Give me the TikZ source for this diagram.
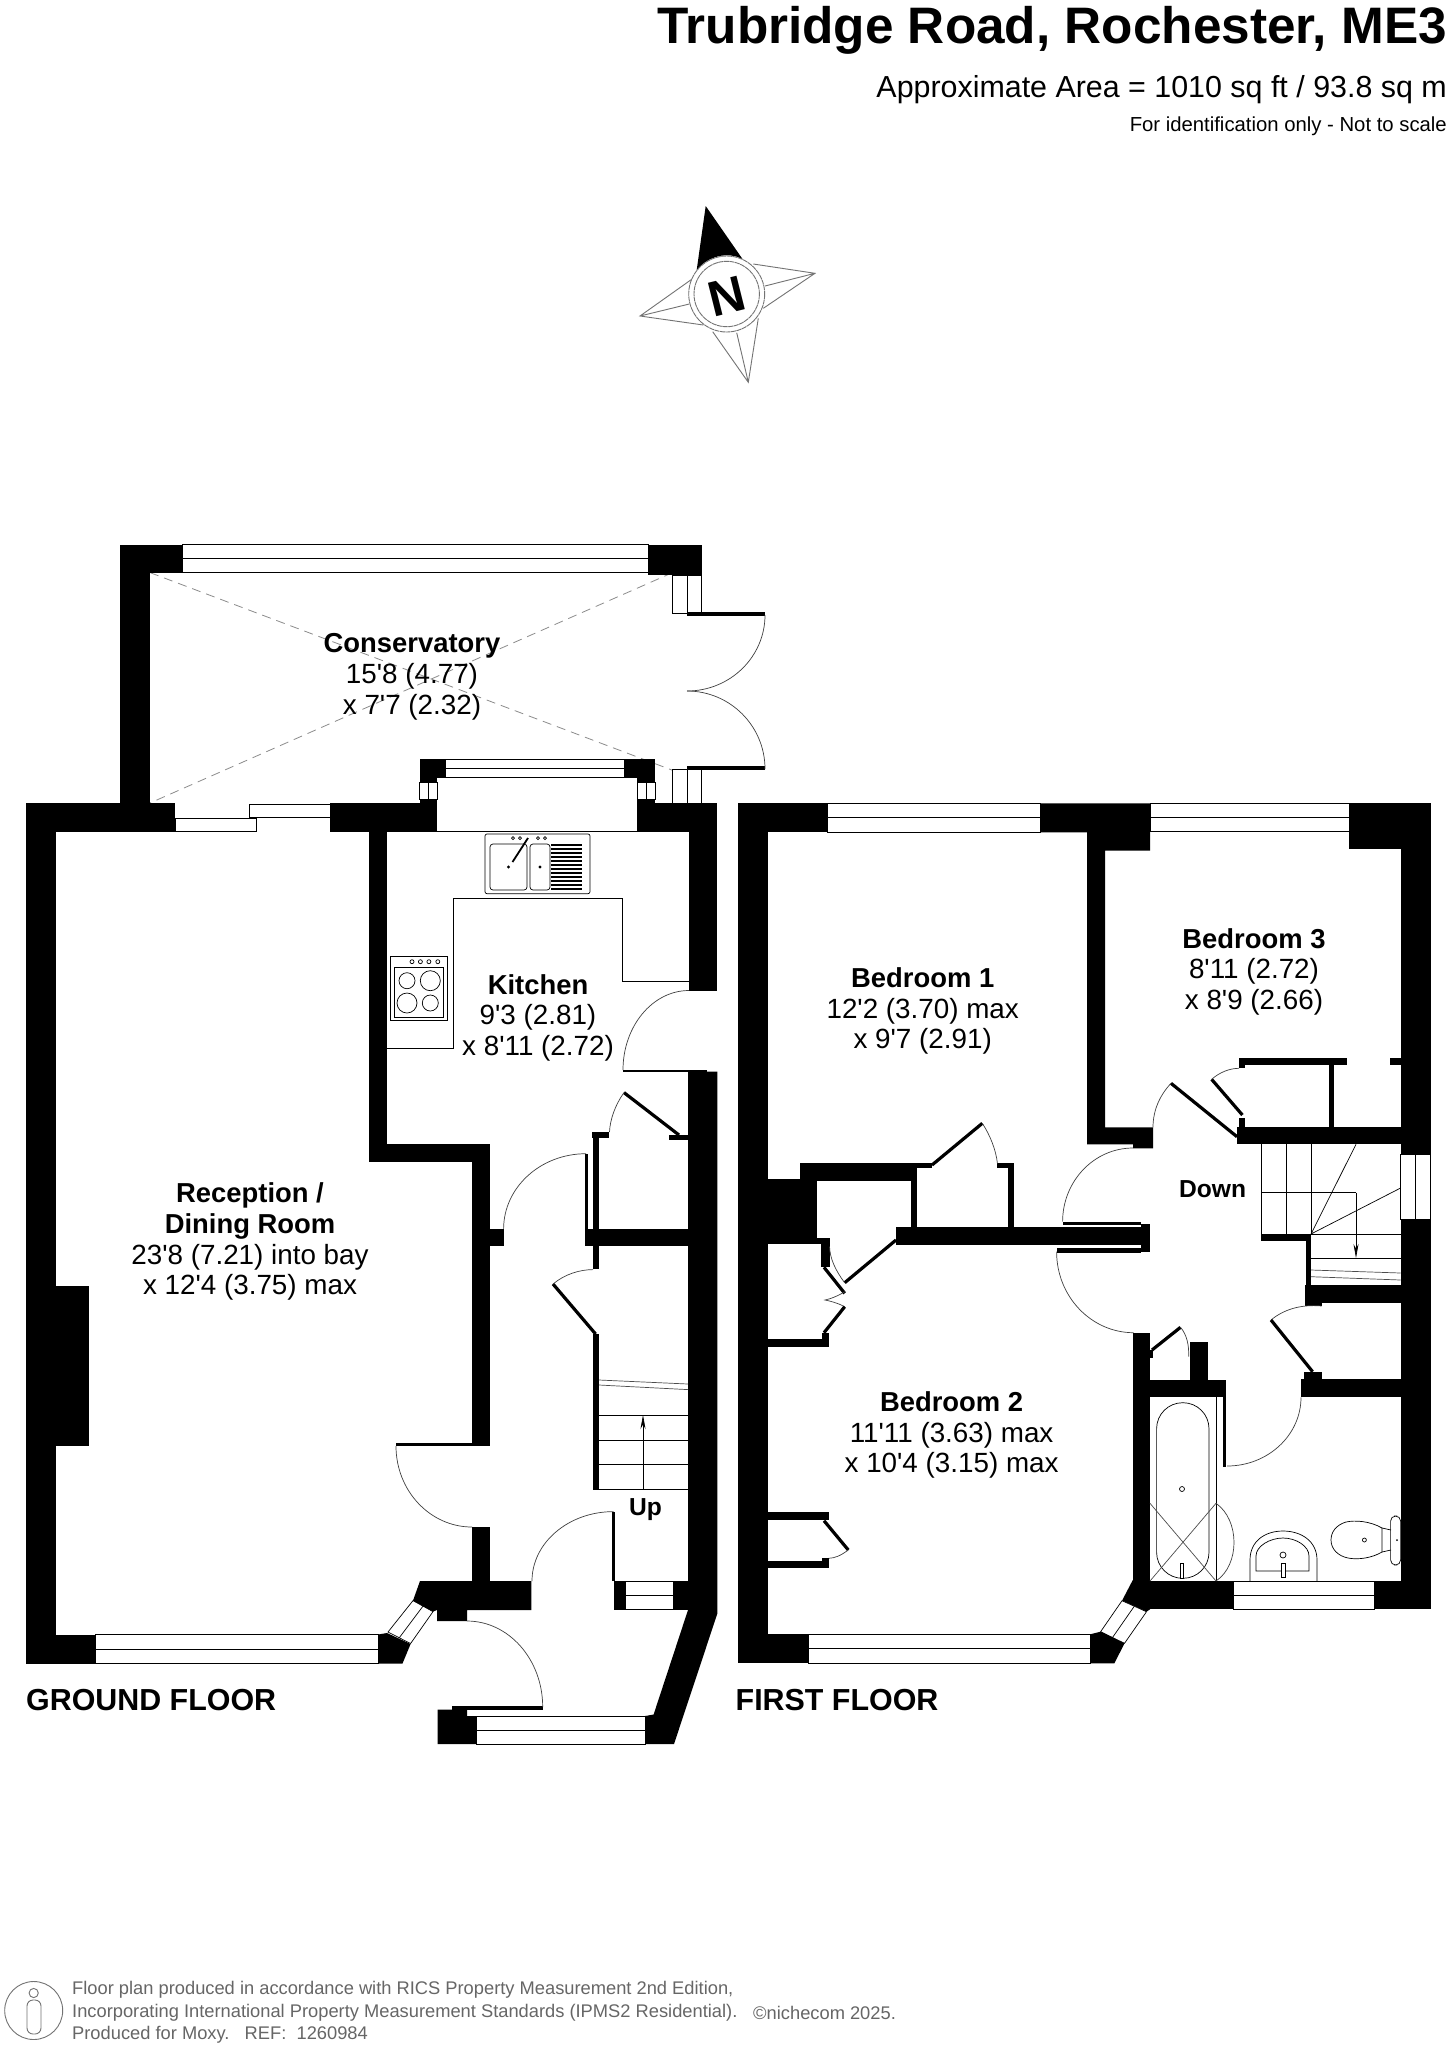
\documentclass[tikz,border=0pt]{standalone}
\usepackage{fontspec}
\usetikzlibrary{calc,arrows.meta}
\newfontfamily\planfont{Liberation Sans}
\newcommand\fsz[1]{\fontsize{#1bp}{#1bp}\selectfont}
\newcommand\Wrect[2]{\fill[black] (#1) rectangle (#2);}
\newcommand\WinH[4]{\draw[winl] (#1,#2) rectangle (#3,#4); \draw[winl] (#1,{(#2+#4)/2}) -- (#3,{(#2+#4)/2});}
\newcommand\WinV[4]{\draw[winl] (#1,#2) rectangle (#3,#4); \draw[winl] ({(#1+#3)/2},#2) -- ({(#1+#3)/2},#4);}
\newcommand\Qarc[3]{\draw[arcl] (#1) .. controls ($(#1)+0.552*(#2)-0.552*(#3)$) and ($(#2)+0.552*(#1)-0.552*(#3)$) .. (#2);}
\tikzset{
  winl/.style={draw=black,line width=0.7bp,fill=white},
  arcl/.style={draw=black!75,line width=0.7bp},
  thinl/.style={draw=black,line width=0.7bp},
  leaf/.style={draw=black,line width=3.2bp},
  room/.style={font=\planfont\fsz{27.8},align=center,inner sep=0pt},
  roomb/.style={font=\planfont\bfseries\fsz{27.4},align=center,inner sep=0pt},
  small/.style={font=\planfont\bfseries\fsz{24.6},inner sep=0pt},
  floorlab/.style={font=\planfont\bfseries\fsz{30.4},inner sep=0pt,anchor=west},
  foot/.style={font=\planfont\fsz{18.3},text=black!60,inner sep=0pt,anchor=west},
  comp/.style={draw=black!55,line width=0.9bp},
}
\begin{document}
\begin{tikzpicture}[x=1bp,y=-1bp]
\useasboundingbox (0,0) rectangle (1449,2048);
\fill[white] (0,0) rectangle (1449,2048);
% ---- header
\node[font=\planfont\bfseries\fsz{51.3},anchor=east,inner sep=0pt] (title) at (1447,30) {Trubridge Road, Rochester, ME3};
\node[font=\planfont\fsz{30.4},anchor=east,inner sep=0pt] (area) at (1447,90) {Approximate Area = 1010 sq ft / 93.8 sq m};
\node[font=\planfont\fsz{20.3},anchor=east,inner sep=0pt] (scale) at (1447,126.5) {For identification only - Not to scale};
% ---- compass
\fill[black] (705.7,206) -- (742.7,259.3) .. controls (728,251) and (708,256) .. (696.7,270) -- cycle;
\draw[comp] (691.7,279.3) -- (640,316) -- (703.3,325) (640,316) -- (689.3,304);
\draw[comp] (753.3,264) -- (815,273.3) -- (763.3,308.3) (815,273.3) -- (765,286);
\draw[comp] (758.3,318.3) -- (748.3,382.3) -- (712.7,331.7) (748.3,382.3) -- (736.7,332.7);
\draw[comp,dash pattern=on 5bp off 0.6bp] (726.7,294) circle [radius=38] (726.7,294) circle [radius=32.7];
\node[font=\planfont\bfseries\fsz{50},rotate=14,inner sep=0pt] (north) at (727,296) {N};
% ---- GROUND FLOOR
\draw[black!45,line width=0.8bp,dash pattern=on 9bp off 6bp] (150,572.6) -- (672.6,770.3) (672.6,572.6) -- (150,803);
\Wrect{120,544.5}{150,803}
\Wrect{120,544.5}{182.6,572.6}
\WinH{182.6}{544.5}{648}{572.6}
\Wrect{648,544.5}{701.5,575}
\WinV{672.6}{575}{701.5}{613}
\Wrect{687,611.5}{765,615.7}
\Wrect{687,766}{765,769.5}
\WinV{672.6}{769.5}{701.5}{803}
\Qarc{765,615}{687,691}{687,615}
\Qarc{765,769}{687,691}{687,769}
\Wrect{26,803}{175,831.6}
\Wrect{330,803}{437,831.6}
\draw[winl] (175,818) rectangle (256,831.6);
\draw[winl] (249,804) rectangle (330,817);
\Wrect{419.5,759}{445,777}
\Wrect{419.5,777}{437,782}
\WinV{419.5}{782}{437}{799}
\Wrect{419.5,799}{437,803}
\WinH{445}{759}{624}{777}
\Wrect{624,759}{655,777}
\Wrect{637,777}{655,782}
\WinV{637}{782}{655}{799}
\Wrect{637,799}{655,803}
\Wrect{637,803}{717,831.6}
\draw[thinl] (437,777) -- (637,777) (437,831.6) -- (637,831.6);
% kitchen / reception walls
\Wrect{368.6,831.6}{386.5,1162}
\Wrect{368.6,1143.5}{490,1162}
\Wrect{472.4,1143.5}{490,1444}
\Wrect{490,1229}{503.6,1246}
\Wrect{396,1442.5}{490,1446}
\Wrect{472.4,1527}{490,1581}
\Wrect{26,803}{56,1663.5}
\Wrect{56,1286}{88.7,1446}
\Wrect{26,1634.5}{95.8,1663.5}
\WinH{95.8}{1634.5}{378}{1663.5}
\fill[black] (378,1634.5) -- (387,1633) -- (410.6,1644) -- (402.5,1663.5) -- (378,1663.5) -- cycle;
\draw[winl] (413,1600.6) -- (433,1611.6) -- (410.6,1643.5) -- (388,1632) -- cycle;
\draw[winl] (423,1606.1) -- (399.3,1637.7);
\fill[black] (420,1581) -- (531.4,1581) -- (531.4,1610) -- (467,1610) -- (467,1621) -- (437,1621) -- (437,1610) -- (433,1611.6) -- (413,1600.6) -- cycle;
\Wrect{613.5,1581}{625,1609.6}
\WinH{625}{1581}{673.4}{1609.6}
\Wrect{673.4,1581}{688,1609.6}
\Wrect{611.6,1511.6}{614.5,1581}
\Wrect{689,803}{717,990.5}
\fill[black] (688,1071.6) -- (717.3,1071.6) -- (717.3,1613.7) -- (674,1744) -- (645,1744) -- (645,1716) -- (653.6,1714.5) -- (688,1610) -- cycle;
\WinH{476.6}{1716}{645}{1744}
\fill[black] (437.5,1709.6) -- (467,1709.6) -- (467,1716) -- (476.6,1716) -- (476.6,1744) -- (437.5,1744) -- cycle;
\Wrect{451.6,1706}{542.7,1709.6}
\Qarc{689,990.5}{623,1070}{689,1070}
\Wrect{623,1069.6}{707,1072}
\Qarc{503.6,1229}{586,1153.7}{586,1229}
\Qarc{396,1446}{472,1527}{472,1446}
\Qarc{613.5,1511.6}{532,1581}{613.5,1581}
\Qarc{467,1621}{542.7,1707}{467,1707}
% under-stair cupboards
\Wrect{592,1132}{609,1138}
\Wrect{593,1132}{599.4,1269}
\Wrect{585,1153.7}{588,1238}
\Wrect{585,1229}{688,1246}
\Wrect{669,1135}{689,1140}
\draw[leaf] (624,1092.6) -- (679,1135);
\draw[arcl] (624,1092.6) .. controls (615,1105) and (610,1120) .. (609.5,1132);
\draw[leaf] (553,1284) -- (595.6,1334);
\draw[arcl] (553,1284) .. controls (565,1274) and (580,1269.6) .. (593,1269.6);
\Wrect{593,1334}{599.4,1489}
\draw[thinl,black!70] (599,1380) -- (688,1384) (599,1385) -- (688,1389.6);
\draw[thinl] (599,1415.7) -- (688,1415.7) (599,1440) -- (688,1440) (599,1464.7) -- (688,1464.7) (593,1489) -- (688,1489);
\draw[thinl,-{Stealth[length=14bp,width=5bp]}] (643,1489) -- (643,1415);
% kitchen fittings
\draw[thinl] (386.5,1048.7) -- (453,1048.7) -- (453,898.4) -- (622,898.4) -- (622,981.4) -- (689,981.4);
\draw[thinl,rounded corners=2bp] (485,834) rectangle (590,893.7);
\draw[thinl,rounded corners=3bp] (490,844) rectangle (527,890);
\draw[thinl,rounded corners=3bp] (530,844) rectangle (550,890);
\foreach \yy in {845,849,853,857,861,865,869,873,877,881,885,889}{\draw[black,line width=1.6bp] (551,\yy) -- (582,\yy);}
\draw[thinl,line width=1.8bp] (512.5,862) -- (528,838);
\fill[black] (508.5,867) circle [radius=1.6] (540,867) circle [radius=1.6];
\draw[thinl] (513,838) circle [radius=1.5] (520,838) circle [radius=1.5] (538,838) circle [radius=1.5] (545,838) circle [radius=1.5];
\draw[thinl] (390.5,956) rectangle (447.8,1020);
\draw[thinl] (394.5,967) rectangle (443.8,1017.4);
\draw[thinl] (407,980.7) circle [radius=8] (430.3,980.7) circle [radius=10] (407,1003) circle [radius=10] (430.3,1003) circle [radius=8];
\draw[thinl] (412,961.7) circle [radius=2] (420.4,961.7) circle [radius=2] (428.9,961.7) circle [radius=2] (437.8,961.7) circle [radius=2];
% ---- FIRST FLOOR
\Wrect{738,803.3}{767.6,1663.3}
\Wrect{738,803.3}{827.7,832.3}
\WinH{827.7}{803.3}{1040.5}{832.3}
\fill[black] (1040.5,803.3) -- (1150,803.3) -- (1150,850.7) -- (1105,850.7) -- (1105,1127.3) -- (1153,1127.3) -- (1153,1148.3) -- (1133,1148.3) -- (1133,1144.3) -- (1087,1144.3) -- (1087,832.3) -- (1040.5,832.3) -- cycle;
\WinH{1150}{803.3}{1349}{831.3}
\Wrect{1349,803.3}{1430.5,849.3}
\Wrect{1400.6,803.3}{1430.5,1154.3}
\WinV{1400.6}{1154.3}{1430.5}{1219.3}
\Wrect{1400.6,1219.3}{1430.5,1609.3}
\Wrect{1237,1127.3}{1400.6,1144.3}
\Wrect{1239,1118.3}{1244.7,1127.3}
\Wrect{1239,1057.7}{1347,1065.3}
\Wrect{1239,1065.3}{1244.7,1068.3}
\Wrect{1389.6,1057.7}{1400.6,1065.3}
\Wrect{1328.6,1065.3}{1334,1127.3}
\draw[leaf] (1171,1083.3) -- (1237,1136.7);
\draw[leaf] (1211.6,1079.3) -- (1242.4,1115);
\draw[arcl] (1171,1083.3) .. controls (1160,1095) and (1153,1110) .. (1153,1127.3);
\draw[arcl] (1211.6,1079.3) .. controls (1220,1072) and (1230,1068.3) .. (1239,1068.3);
% bedroom 1 cupboards
\Wrect{799.7,1163.3}{911,1181}
\Wrect{911,1163.3}{917,1245}
\Wrect{911,1163.3}{932,1168.3}
\Wrect{767.6,1179.3}{817,1244}
\Wrect{817,1238.3}{829.5,1244}
\Wrect{821,1238.3}{829.5,1266.7}
\Wrect{1007.5,1163.3}{1014,1226.7}
\Wrect{997.4,1163.3}{1014,1168.3}
\Wrect{896,1226.7}{1140.5,1245}
\Wrect{1140.5,1224}{1150,1251.7}
\Wrect{1062.6,1221.7}{1140.5,1225}
\Wrect{1056.6,1248.3}{1140.5,1253.3}
\draw[leaf] (896,1240) -- (844.7,1282.7);
\draw[arcl] (844.7,1282.7) .. controls (835,1270) and (830,1258) .. (829.5,1246.7);
\draw[leaf] (824,1267.3) -- (844.7,1293.3);
\draw[arcl] (844.7,1291.7) .. controls (838,1296) and (830,1299) .. (825,1300) .. controls (830,1301) and (838,1303) .. (844.7,1306.7);
\draw[leaf] (844.7,1306.7) -- (824,1332.7);
\Wrect{821.7,1332.7}{828.6,1346.7}
\Wrect{767.6,1339.3}{828.6,1346.7}
\draw[leaf] (982.3,1123.3) -- (932,1165);
\draw[arcl] (982.3,1123.3) .. controls (990,1135) and (996,1150) .. (997.4,1163.3);
\Qarc{1062.6,1221.7}{1133,1148}{1133,1221.7}
\Qarc{1056.6,1251.7}{1133.7,1332.7}{1133.7,1251.7}
% stairs
\draw[thinl] (1261,1144.3) -- (1261,1234) (1286.4,1144.3) -- (1286.4,1234) (1311,1144.3) -- (1311,1234);
\draw[thinl] (1261,1192.7) -- (1356,1192.7) (1261,1234) -- (1400.6,1234);
\draw[thinl] (1311,1234) -- (1356,1144.3) (1311,1234) -- (1400.6,1188);
\draw[thinl,-{Stealth[length=14bp,width=5bp]}] (1356,1192.7) -- (1356,1258);
\Wrect{1261,1235}{1311,1240.7}
\Wrect{1305.7,1240}{1311,1285}
\draw[thinl] (1311,1258.3) -- (1400.6,1258.3);
\draw[thinl,black!70] (1311,1270) -- (1400.6,1273) (1311,1276.7) -- (1400.6,1280);
\Wrect{1305,1285}{1400.6,1303.3}
\Wrect{1305,1303}{1321.7,1306}
% landing, bathroom walls
\draw[arcl] (1321.7,1306) .. controls (1300,1304) and (1283,1310) .. (1271,1320);
\draw[leaf] (1271,1320) -- (1312.6,1371.7);
\Wrect{1304,1371.7}{1321.7,1379.3}
\Wrect{1301,1379.3}{1400.6,1397.3}
\Qarc{1301,1397.3}{1227,1466}{1227,1397.3}
\Wrect{1223,1380}{1226,1466.7}
\Wrect{1132.8,1332.7}{1150,1581}
\Wrect{1150,1380}{1223,1397.3}
\Wrect{1190,1341.7}{1208,1380}
\draw[leaf] (1180.5,1327.3) -- (1152,1350);
\Wrect{1150,1350}{1153,1358}
\draw[arcl] (1180.5,1327.3) .. controls (1187,1335) and (1189,1345) .. (1188.7,1356.7);
\Wrect{1150,1581}{1233.7,1609.3}
\fill[black] (1132.8,1580) -- (1150,1580) -- (1150,1609.3) -- (1146.5,1611.7) -- (1122,1600.7) -- cycle;
\WinH{1233.7}{1581}{1374.5}{1609.3}
\Wrect{1374.5,1581}{1430.5,1609.3}
\draw[winl] (1122,1600.7) -- (1146.5,1611.7) -- (1124.5,1643.3) -- (1100.6,1631.7) -- cycle;
\draw[winl] (1134.3,1606.2) -- (1112.5,1637.5);
\fill[black] (1090,1634.3) -- (1100.6,1631.7) -- (1124.5,1643.3) -- (1114.4,1663.3) -- (1090,1663.3) -- cycle;
\WinH{808}{1634.3}{1090}{1663.3}
\Wrect{738,1634.3}{808,1663.3}
% bedroom 2 cupboard
\Wrect{767.6,1511.7}{828.6,1520}
\draw[leaf] (824,1520.7) -- (848.3,1550);
\draw[arcl] (848.3,1550) .. controls (840,1556) and (835,1558) .. (828.6,1558.3);
\Wrect{767.6,1560.7}{828.6,1568.3}
\Wrect{821.7,1558.3}{828.6,1568.3}
% bathroom fittings
\draw[thinl] (1216,1397.3) -- (1216,1581);
\draw[thinl,rounded corners=26bp] (1156.6,1402.7) rectangle (1209,1578.3);
\draw[thinl,black!70] (1150,1503.3) -- (1216,1581) (1216,1503.3) -- (1150,1581);
\draw[arcl] (1216,1503.3) .. controls (1240,1520) and (1240,1565) .. (1216,1581);
\draw[thinl] (1182,1489) circle [radius=2.5];
\draw[thinl,fill=white] (1180.5,1563) rectangle (1183.5,1578);
\draw[thinl] (1250,1581) -- (1250,1560) .. controls (1250,1541) and (1265,1531) .. (1283,1531) .. controls (1301,1531) and (1317,1541) .. (1317,1560) -- (1317,1581);
\draw[thinl] (1256,1571) -- (1256,1556) .. controls (1256,1546) and (1270,1538) .. (1283,1538) .. controls (1296,1538) and (1309,1546) .. (1309,1556) -- (1309,1571) -- cycle;
\draw[thinl] (1283,1555) circle [radius=3];
\draw[thinl,fill=white] (1281,1563) rectangle (1285,1577);
\draw[thinl] (1382,1528) .. controls (1370,1521) and (1355,1520) .. (1346,1522) .. controls (1336,1525) and (1331,1532) .. (1331,1540) .. controls (1331,1549) and (1338,1556) .. (1348,1558) .. controls (1358,1560) and (1372,1558) .. (1382,1552) -- cycle;
\draw[thinl] (1364.4,1540) circle [radius=2];
\draw[thinl] (1382,1528) -- (1391,1530) (1382,1552) -- (1391,1550);
\draw[thinl,rounded corners=5bp] (1390.6,1516) rectangle (1400.6,1565);
\fill[black] (1397,1540) circle [radius=1];
% ---- labels
\node[roomb] (consT) at (412,646) {Conservatory};
\node[room] (consA) at (412,676.5) {15'8 (4.77)};
\node[room] (consB) at (412,707) {x 7'7 (2.32)};
\node[roomb] (kitT) at (538,984.5) {Kitchen};
\node[room] (kitA) at (538,1017.5) {9'3 (2.81)};
\node[room] (kitB) at (538,1048.5) {x 8'11 (2.72)};
\node[roomb] (recT) at (250,1195.5) {Reception /};
\node[roomb] (recU) at (250,1226.5) {Dining Room};
\node[room] (recA) at (250,1257) {23'8 (7.21) into bay};
\node[room] (recB) at (250,1287.5) {x 12'4 (3.75) max};
\node[small] (up) at (645.6,1510) {Up};
\node[floorlab] (gf) at (26,1700.5) {GROUND FLOOR};
\node[floorlab] (ff) at (735.5,1700) {FIRST FLOOR};
\node[roomb] (b1T) at (922.7,978) {Bedroom 1};
\node[room] (b1A) at (922.7,1011.5) {12'2 (3.70) max};
\node[room] (b1B) at (922.7,1041.5) {x 9'7 (2.91)};
\node[roomb] (b3T) at (1254,938.5) {Bedroom 3};
\node[room] (b3A) at (1254,971.5) {8'11 (2.72)};
\node[room] (b3B) at (1254,1002.5) {x 8'9 (2.66)};
\node[roomb] (b2T) at (951.6,1401.7) {Bedroom 2};
\node[room] (b2A) at (951.6,1435) {11'11 (3.63) max};
\node[room] (b2B) at (951.6,1465.5) {x 10'4 (3.15) max};
\node[small] (down) at (1212.6,1189) {Down};
% ---- footer
\draw[black!55,line width=0.9bp] (33.7,2010.5) circle [radius=29];
\draw[black!55,line width=0.9bp] (33.7,1993) circle [radius=4.6];
\draw[black!55,line width=0.9bp,rounded corners=6bp] (27,2000) rectangle (41,2034);
\node[foot] (f1) at (72,1990) {Floor plan produced in accordance with RICS Property Measurement 2nd Edition,};
\node[foot] (f2) at (72,2013) {Incorporating International Property Measurement Standards (IPMS2 Residential).};
\node[foot] (f4) at (753,2013) {©nichecom 2025.};
\node[foot] (f3) at (72,2034.5) {Produced for Moxy.~~~REF:~~1260984};
\end{tikzpicture}
\end{document}
